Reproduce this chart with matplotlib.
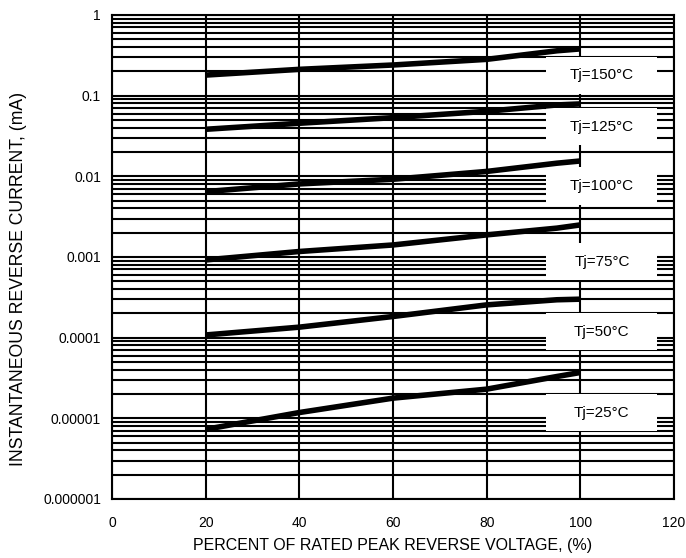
import matplotlib
matplotlib.use("Agg")
import matplotlib.pyplot as plt
from matplotlib.patches import Rectangle
from matplotlib.ticker import LogLocator, FixedLocator, NullFormatter, FixedFormatter

plt.rcParams['font.family'] = ['Liberation Sans', 'DejaVu Sans']

# Data
voltage_pct = [20, 40, 60, 80, 95, 100]
curves = {
    "Tj=150°C": [0.18, 0.212, 0.24, 0.282, 0.36, 0.38],
    "Tj=125°C": [0.0383, 0.0455, 0.0534, 0.064, 0.0767, 0.079],
    "Tj=100°C": [0.00646, 0.00805, 0.0092, 0.0115, 0.01455, 0.0155],
    "Tj=75°C":  [0.00092, 0.00117, 0.00141, 0.00188, 0.00228, 0.0025],
    "Tj=50°C":  [0.000108, 0.000135, 0.000183, 0.000255, 0.000295, 0.0003],
    "Tj=25°C":  [7.3e-6, 1.18e-5, 1.78e-5, 2.3e-5, 3.3e-5, 3.7e-5],
}
label_y = {
    "Tj=150°C": 0.18,
    "Tj=125°C": 0.041,
    "Tj=100°C": 0.0076,
    "Tj=75°C": 0.00087,
    "Tj=50°C": 0.000118,
    "Tj=25°C": 1.17e-5,
}
label_x = 104.6
x_ticks = [0, 20, 40, 60, 80, 100, 120]
y_ticks = [1e-6, 1e-5, 1e-4, 1e-3, 1e-2, 1e-1, 1]
y_tick_labels = ["0.000001", "0.00001", "0.0001", "0.001", "0.01", "0.1", "1"]

fig = plt.figure(figsize=(6.86, 5.58), dpi=100)
ax = fig.add_axes([112/686, 1-499/558, (674-112)/686, (499-15)/558])
ax.set_yscale('log')
ax.set_xlim(0, 120)
ax.set_ylim(1e-6, 1)

ax.xaxis.set_major_locator(FixedLocator(x_ticks))
ax.yaxis.set_major_locator(FixedLocator(y_ticks))
ax.yaxis.set_major_formatter(FixedFormatter(y_tick_labels))
ax.yaxis.set_minor_locator(LogLocator(base=10, subs=range(2, 10), numticks=20))
ax.yaxis.set_minor_formatter(NullFormatter())

ax.grid(True, which='major', axis='both', color='black', linewidth=1.5, zorder=1)
ax.grid(True, which='minor', axis='y', color='black', linewidth=1.5, zorder=1)
ax.set_axisbelow(True)
ax.tick_params(which='both', length=0, labelsize=10, colors='black', pad=8)
ax.tick_params(axis='x', pad=12)
for s in ax.spines.values():
    s.set_linewidth(1.5)
    s.set_color('black')

# white label boxes
for name, yv in label_y.items():
    h = 0.23
    rect = Rectangle((92.6, yv * 10**(-h)), 116.4 - 92.6, yv * (10**h - 10**(-h)),
                     facecolor='white', edgecolor='none', zorder=2)
    ax.add_patch(rect)
    ax.text(label_x, yv, name, ha='center', va='center', fontsize=11, zorder=4)

for name, vals in curves.items():
    ax.plot(voltage_pct, vals, color='black', linewidth=4.0, solid_capstyle='butt', zorder=3)

ax.set_xlabel("PERCENT OF RATED PEAK REVERSE VOLTAGE, (%)", fontsize=11.5, labelpad=6)
ax.set_ylabel("INSTANTANEOUS REVERSE CURRENT, (mA)", fontsize=12.7, labelpad=10)
ax.yaxis.set_label_coords(-0.152, 0.455)

fig.savefig("out.png", dpi=100)
